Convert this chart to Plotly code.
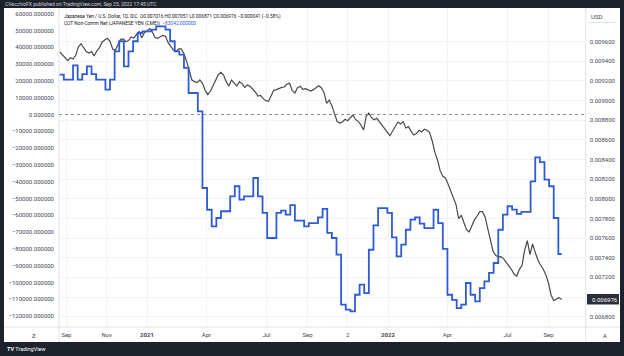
import plotly.graph_objects as go
import pandas as pd

# ---------------- data ----------------
# Japanese Yen / U.S. Dollar (JPYUSD), sampled every 4 days from 2020-08-22
price_start = "2020-08-22"
price_freq = "4D"
price = [
    0.009495, 0.009468, 0.009441, 0.009407, 0.009437, 0.009424, 0.009461, 0.009546, 0.009580, 0.009536,
    0.009499, 0.009485, 0.009499, 0.009454, 0.009505, 0.009539, 0.009597, 0.009617, 0.009634, 0.009604,
    0.009526, 0.009512, 0.009570, 0.009624, 0.009628, 0.009600, 0.009611, 0.009648, 0.009638, 0.009672,
    0.009706, 0.009638, 0.009692, 0.009712, 0.009733, 0.009699, 0.009645, 0.009634, 0.009651, 0.009665,
    0.009655, 0.009590, 0.009553, 0.009516, 0.009502, 0.009526, 0.009526, 0.009478, 0.009400,
    0.009295, 0.009210, 0.009193, 0.009183, 0.009210, 0.009176, 0.009105, 0.009061, 0.009095, 0.009146,
    0.009210, 0.009264, 0.009288, 0.009261, 0.009193, 0.009149, 0.009210, 0.009183, 0.009149, 0.009193,
    0.009173, 0.009135, 0.009159, 0.009146, 0.009118, 0.009088, 0.009047, 0.009054, 0.009020, 0.009000,
    0.008993, 0.009051, 0.009105, 0.009112, 0.009125, 0.009135, 0.009139, 0.009169, 0.009176, 0.009101,
    0.009078, 0.009132, 0.009146, 0.009115, 0.009122, 0.009112, 0.009098, 0.009112,
    0.009135, 0.009152, 0.009132, 0.009084, 0.008972, 0.009006, 0.008949, 0.008857, 0.008786, 0.008772,
    0.008782, 0.008810, 0.008796, 0.008826, 0.008854, 0.008806, 0.008789, 0.008752, 0.008701, 0.008840,
    0.008874, 0.008826, 0.008806, 0.008820, 0.008782, 0.008748, 0.008714, 0.008674, 0.008643, 0.008691,
    0.008745, 0.008782, 0.008762, 0.008786, 0.008721, 0.008735, 0.008687, 0.008650, 0.008664, 0.008698,
    0.008681, 0.008708, 0.008698, 0.008674, 0.008589, 0.008473, 0.008395, 0.008287, 0.008229,
    0.008212, 0.008151, 0.008076, 0.008015, 0.007941, 0.007798, 0.007832, 0.007757, 0.007686, 0.007662,
    0.007717, 0.007788, 0.007825, 0.007869, 0.007869, 0.007818, 0.007700, 0.007584, 0.007469, 0.007425,
    0.007408, 0.007411, 0.007391, 0.007353, 0.007316, 0.007282, 0.007231, 0.007214, 0.007282, 0.007323,
    0.007479, 0.007574, 0.007431, 0.007540, 0.007455, 0.007377, 0.007326, 0.007285, 0.007228, 0.007143,
    0.007021, 0.006963, 0.006980, 0.006994, 0.006976,
]

# COT non-commercial net positions, Japanese Yen (CME), weekly from 2020-08-21
cot_start = "2020-08-21"
cot_freq = "7D"
cot_net = [
    23700, 20700, 20700, 29300, 20700, 24000, 28700, 24000, 20700, 20700,
    14800, 20700, 37600, 43600, 28700, 37600, 43600, 48500, 49500, 49500,
    50500, 52500, 52500, 50500, 43600, 37600, 35600, 27700, 12800, 12800,
    1900, -43750, -56700, -66600, -61600, -57600, -57600, -48700, -42700, -50700,
    -48700, -48700, -37800, -48700, -58600, -73500, -73500, -58600, -57200, -59600,
    -54000, -63200, -63200, -66600, -64600, -64600, -61200, -56200, -70500, -73500,
    -83400, -113200, -116200, -117200, -107300, -101300, -106300, -80500, -66000, -55700,
    -55700, -58600, -73100, -84400, -77500, -68600, -62600, -61200, -65000, -67600,
    -67600, -56700, -64600, -80000, -107300, -110300, -115200, -113200, -100300, -107300,
    -111200, -103300, -99300, -94300, -88400, -68600, -59600, -54600, -56600, -59200,
    -58000, -58000, -39800, -25500, -28300, -38800, -42700, -61600, -83042,
]

# axis ticks
x_tick_dates = ["2020-09-01", "2020-11-01", "2021-01-01", "2021-04-01", "2021-07-01",
                "2021-09-01", "2021-11-01", "2022-01-01", "2022-04-01", "2022-07-01", "2022-09-01"]
x_tick_text = ["Sep", "Nov", "<b>2021</b>", "Apr", "Jul", "Sep", "2", "<b>2022</b>", "Apr", "Jul", "Sep"]
price_ticks = [0.0068 + 0.0002 * i for i in range(15)]
cot_ticks = [-120000 + 10000 * i for i in range(19)]

last_close = price[-1]
header_1 = ("Japanese Yen / U.S. Dollar, 1D, IDC  O0.007016 H0.007051 L0.006871 "
            "C0.006976 \u22120.000041 (\u22120.58%)")
header_2 = "COT Non-Comm Net (JAPANESE YEN (CME))"
cot_label = "\u221283042.000000"

# ---------------- figure ----------------
W, H = 624, 356
px = lambda v: v / W
py = lambda v: 1 - v / H

price_dates = pd.date_range(price_start, periods=len(price), freq=price_freq)
cot_dates = pd.date_range(cot_start, periods=len(cot_net), freq=cot_freq)

FONT = "Roboto"
TXT = "#434651"
GRID = "#f0f3fa"
SEP = "#e0e3eb"
DARK = "#1e222d"
BLUE = "#2f5bd6"

fig = go.Figure()
fig.add_trace(go.Scatter(
    x=price_dates, y=price, mode="lines", yaxis="y",
    line=dict(color="#4a4a4a", width=1.2), hoverinfo="skip", showlegend=False))
fig.add_trace(go.Scatter(
    x=list(cot_dates) + [price_dates[-1]], y=cot_net + [cot_net[-1]],
    mode="lines", yaxis="y2", line=dict(color=BLUE, width=1.8, shape="hv"),
    hoverinfo="skip", showlegend=False))

def fmt_cot(v):
    s = f"{abs(v):.6f}"
    return ("\u2212" + s) if v < 0 else s

def fmt_price(v):
    # the tick hidden behind the last-price label keeps its gridline only
    return "" if abs(v - last_close) < 0.0001 else f"{v:.6f}"

xdom = [px(59), px(585.7)]
ydom = [py(327), py(8)]

fig.update_layout(
    width=W, height=H,
    margin=dict(l=0, r=0, t=0, b=0),
    paper_bgcolor=DARK, plot_bgcolor="white",
    font=dict(family=FONT, size=6, color=TXT),
    xaxis=dict(
        domain=xdom, type="date",
        range=["2020-08-20 17:30", "2022-10-27 10:00"],
        tickmode="array", tickvals=x_tick_dates, ticktext=x_tick_text,
        showgrid=True, gridcolor=GRID, gridwidth=1,
        zeroline=False, showline=False, ticks="",
        tickfont=dict(size=6, color=TXT), ticklabelstandoff=3,
    ),
    yaxis=dict(
        domain=ydom, side="right",
        range=[0.0066948, 0.0099432],
        tickmode="array", tickvals=price_ticks,
        ticktext=[fmt_price(v) for v in price_ticks],
        showgrid=True, gridcolor=GRID, gridwidth=1,
        zeroline=False, showline=False, ticks="",
        tickfont=dict(size=6, color=TXT), ticklabelstandoff=3,
    ),
    yaxis2=dict(
        domain=ydom, side="left", overlaying="y", anchor="x",
        range=[-126488, 63393],
        tickmode="array", tickvals=cot_ticks,
        ticktext=[fmt_cot(v) for v in cot_ticks],
        showgrid=False, zeroline=False, showline=False, ticks="",
        tickfont=dict(size=6, color=TXT), ticklabelstandoff=4,
    ),
)

shapes = [
    dict(type="rect", xref="paper", yref="paper", x0=px(4), x1=px(620), y0=py(342), y1=py(8),
         fillcolor="white", line=dict(width=0), layer="below"),
    dict(type="line", xref="paper", yref="paper", x0=px(59), x1=px(59), y0=py(342), y1=py(8),
         line=dict(color=SEP, width=1)),
    dict(type="line", xref="paper", yref="paper", x0=px(585.7), x1=px(585.7), y0=py(342), y1=py(8),
         line=dict(color=SEP, width=1)),
    dict(type="line", xref="paper", yref="paper", x0=px(4), x1=px(620), y0=py(327), y1=py(327),
         line=dict(color=SEP, width=1)),
    dict(type="line", xref="paper", yref="paper", x0=px(588), x1=px(616), y0=py(22.5), y1=py(22.5),
         line=dict(color=SEP, width=1)),
    dict(type="line", xref="paper", yref="y2", x0=xdom[0], x1=xdom[1], y0=0, y1=0,
         line=dict(color="#8a8d96", width=1, dash="dot")),
    dict(type="rect", xref="paper", yref="paper", x0=px(587), x1=px(619), y0=py(304.5), y1=py(294),
         fillcolor="#2a2e39", line=dict(width=0)),
]
fig.update_layout(shapes=shapes)

ann = [
    dict(text="CVecchioFX published on TradingView.com, Sep 25, 2022 17:45 UTC",
         x=px(3), y=py(4.2), font=dict(size=5, color="#d1d4dc")),
    dict(text=header_1, x=px(62), y=py(16.7), font=dict(size=4.8, color="#131722")),
    dict(text=f"{header_2}  <span style='color:{BLUE}'>{cot_label}</span>",
         x=px(62), y=py(23.3), font=dict(size=4.8, color="#131722")),
    dict(text="USD", x=px(589), y=py(17), font=dict(size=6, color=TXT)),
    dict(text=f"{last_close:.6f}", x=px(589.5), y=py(299.3), font=dict(size=6, color="white")),
    dict(text="Z", x=px(30), y=py(335), font=dict(size=6, color=TXT)),
    dict(text="A", x=px(601), y=py(335), font=dict(size=6, color=TXT)),
    dict(text="<b>TV</b> TradingView", x=px(5), y=py(349), font=dict(size=5.5, color="white")),
]
for a in ann:
    a.update(xref="paper", yref="paper", xanchor="left", yanchor="middle", showarrow=False)
fig.update_layout(annotations=ann)

fig.write_html("out.html", config={"displayModeBar": False},
               post_script="document.body.style.margin='0';document.body.style.overflow='hidden';")
